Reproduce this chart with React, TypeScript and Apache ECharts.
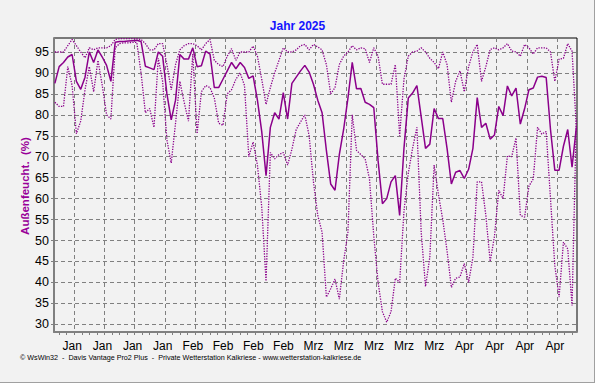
import React, { useEffect, useRef } from 'react';
import * as echarts from 'echarts';

const TITLE = 'Jahr 2025';
const Y_NAME = 'Außenfeucht.  (%)';
const FOOTER = '© WsWin32  -  Davis Vantage Pro2 Plus  -  Private Wetterstation Kalkriese - www.wetterstation-kalkriese.de';

// Daily values, day index 0 = 1 Jan 2025
const meanHum = [
  87.5, 91.5, 92.5, 93.8, 94.4, 88, 86.1, 89, 95, 92.5,
  95.5, 93.8, 91.8, 88, 97.3, 97.5, 97.5, 97.6, 97.7, 97.8,
  97.5, 91.6, 91.2, 90.8, 95, 94, 85, 78.8, 83.5, 94.4,
  93.3, 93.3, 96, 91.5, 91.7, 95.2, 94.5, 86.5, 86.5, 88.5,
  90.5, 92.5, 91, 92.5, 91.3, 88.7, 89.3, 83.5, 76, 65.5,
  77, 80.5, 79, 85.3, 79, 87.5, 89, 90.5, 91.8, 90.2,
  87.3, 83.5, 80.5, 71.5, 63.5, 62, 70.5, 76.5, 84, 92.5,
  86.2, 86.3, 83, 82.5, 81.7, 69, 58.8, 60, 64, 65.5,
  56, 72, 84, 85.2, 87, 79.5, 72, 73, 81.5, 79.1,
  79.1, 72, 63.5, 66.3, 66.7, 64.8, 67, 72, 84.1, 77,
  78, 74.2, 75.2, 82, 79.8, 86.9, 84.5, 86.4, 77.8, 81.5,
  86, 86.4, 89, 89.2, 88.9, 76.5, 66.8, 66.8, 72.5, 76.5,
  67.5, 77,
];
const maxHum = [
  95, 95, 95, 96.5, 98, 96.5, 95, 93.6, 96, 95.5,
  96, 96, 96, 96.5, 98, 98.2, 98.2, 98.2, 98.2, 98.2,
  98, 97, 95.5, 95.5, 97, 97, 92, 86, 92, 95.5,
  96.5, 97, 97, 96.5, 95.5, 97, 98, 93, 92, 91.5,
  94, 95.8, 93, 95, 95, 95, 96.4, 94, 88.5, 82.5,
  86.5, 90, 93, 96, 95, 95, 95.5, 96.5, 96.8, 95.5,
  96.8, 96.2, 95.5, 92, 85, 86.5, 92, 94, 95, 96.5,
  95.5, 96, 95.8, 92.5, 96, 94, 87.3, 87.3, 87.3, 92,
  75, 88.5, 94, 95, 95.2, 96, 95, 93.5, 92.5, 91,
  95, 92, 83, 88, 90.5, 85.5, 91.5, 95, 96.8, 88,
  91.5, 95.6, 96, 95.5, 96, 97, 95.2, 95, 94, 96.8,
  96, 94.5, 96, 96, 96, 95, 88, 93.3, 93.5, 97,
  95.2, 77,
];
const minHum = [
  83, 82, 82, 91.5, 87, 75.5, 78.5, 86, 91.5, 85.5,
  93, 87, 80, 79, 96, 97, 97.2, 97.2, 97.3, 97.3,
  90, 80.5, 81.5, 77, 93.5, 88, 74, 68.5, 78, 88,
  83, 78.5, 94.5, 75.5, 85.5, 87, 86.5, 84, 78, 77.5,
  85, 86, 88.5, 90, 87, 70, 73.5, 68, 58, 40.3,
  71, 69.5, 70.5, 71, 68, 71.8, 76.5, 78.3, 80, 75,
  64, 56, 52, 36.5, 38.5, 40.8, 36, 45, 52, 80,
  71.5, 70.5, 69.5, 64.7, 51, 40, 33, 30.5, 33, 41,
  40, 57, 66, 72, 77, 52, 39, 46, 68, 61,
  55, 47.5, 38.8, 41, 41.3, 44.5, 40, 46, 64, 64,
  56, 45, 51, 62, 60, 70.2, 70, 74.5, 56, 55.6,
  63, 64.7, 77, 75.4, 76, 60, 44, 36.5, 49.6, 48,
  34.5, 79,
];

const yTicks = [30, 35, 40, 45, 50, 55, 60, 65, 70, 75, 80, 85, 90, 95];
const xTickDays = [4.5, 11.5, 18.5, 25.5, 32.5, 39.5, 46.5, 53.5, 60.5, 67.5, 74.5, 81.5, 88.5, 95.5, 102.5, 109.5, 116.5];
const xTickLabels = ['Jan', 'Jan', 'Jan', 'Jan', 'Feb', 'Feb', 'Feb', 'Feb', 'Mrz', 'Mrz', 'Mrz', 'Mrz', 'Mrz', 'Apr', 'Apr', 'Apr', 'Apr'];

const X_MIN = -0.2;
const X_MAX = 121.15;
const Y_MIN = 28.16;
const Y_MAX = 98.34;

const PURPLE = '#8b008b';
const FONT = '"Liberation Sans", Arial, sans-serif';

const minorTicks: number[] = [];
for (let v = 1; v <= X_MAX; v += 1.75) minorTicks.push(v);

const toPairs = (arr: number[]) => arr.map((v, i) => [i, v]);

export default function App() {
  const ref = useRef<HTMLDivElement>(null);
  useEffect(() => {
    if (!ref.current) return;
    const chart = echarts.init(ref.current, undefined, { renderer: 'svg' });
    const gridLine = { show: true, lineStyle: { color: '#808080', width: 1, type: [4, 3] as any } };
    chart.setOption({
      animation: false,
      backgroundColor: '#f2f2f2',
      title: {
        text: TITLE,
        left: 'center',
        top: 15,
        textStyle: { color: '#1414ff', fontSize: 12, fontWeight: 'bold', fontFamily: FONT },
      },
      grid: {
        left: 54,
        right: 18,
        top: 38,
        bottom: 51,
        show: true,
        backgroundColor: 'transparent',
        borderColor: '#000',
        borderWidth: 1,
      },
      xAxis: [
        {
          type: 'value',
          min: X_MIN,
          max: X_MAX,
          position: 'bottom',
          axisLine: { show: true, onZero: false, lineStyle: { color: '#808080', width: 2 } },
          axisTick: { show: true, customValues: xTickDays, length: 3, lineStyle: { color: '#808080' } },
          axisLabel: {
            customValues: xTickDays,
            color: '#000',
            fontSize: 12,
            fontFamily: FONT,
            margin: 8,
            padding: [0, 4, 0, 0],
            formatter: (v: number) => {
              const idx = xTickDays.findIndex((d) => Math.abs(d - v) < 0.01);
              return idx >= 0 ? xTickLabels[idx] : '';
            },
          },
          splitLine: gridLine,
        },
        {
          type: 'value',
          min: X_MIN,
          max: X_MAX,
          position: 'bottom',
          axisLine: { show: false, onZero: false },
          axisTick: { show: true, customValues: minorTicks, length: 3, lineStyle: { color: '#808080' } },
          axisLabel: { show: false },
          splitLine: { show: false },
        },
      ],
      yAxis: {
        type: 'value',
        min: Y_MIN,
        max: Y_MAX,
        axisLine: { show: true, onZero: false, lineStyle: { color: '#808080', width: 2 } },
        axisTick: { show: true, customValues: yTicks, length: 3, lineStyle: { color: '#808080' } },
        axisLabel: {
          customValues: yTicks,
          color: '#000',
          fontSize: 12.5,
          fontFamily: FONT,
          margin: 5,
        },
        splitLine: gridLine,
      },
      graphic: [
        {
          type: 'text',
          x: 25,
          y: 186,
          rotation: Math.PI / 2,
          style: {
            text: Y_NAME,
            fill: '#990099',
            font: `bold 11.5px ${FONT}`,
            textAlign: 'center',
            textVerticalAlign: 'middle',
          },
        },
        {
          type: 'text',
          x: 20,
          y: 357,
          style: {
            text: FOOTER,
            fill: '#000',
            font: `7.2px ${FONT}`,
            textAlign: 'left',
            textVerticalAlign: 'middle',
          },
        },
        {
          type: 'line',
          shape: { x1: 594.5, y1: 0, x2: 594.5, y2: 383 },
          style: { stroke: '#a0a0a0', lineWidth: 1 },
        },
        {
          type: 'line',
          shape: { x1: 0, y1: 382.5, x2: 595, y2: 382.5 },
          style: { stroke: '#a0a0a0', lineWidth: 1 },
        },
      ],
      series: [
        {
          type: 'line',
          data: toPairs(maxHum),
          symbol: 'none',
          lineStyle: { color: PURPLE, width: 1.3, type: [1.3, 1.3] as any },
          z: 3,
        },
        {
          type: 'line',
          data: toPairs(minHum),
          symbol: 'none',
          lineStyle: { color: PURPLE, width: 1.3, type: [1.3, 1.3] as any },
          z: 3,
        },
        {
          type: 'line',
          data: toPairs(meanHum),
          symbol: 'none',
          lineStyle: { color: PURPLE, width: 1.5 },
          z: 4,
        },
      ],
    });
    return () => chart.dispose();
  }, []);
  return (
    <div
      ref={ref}
      style={{ position: 'absolute', left: 0, top: 0, width: 595, height: 383 }}
    />
  );
}
